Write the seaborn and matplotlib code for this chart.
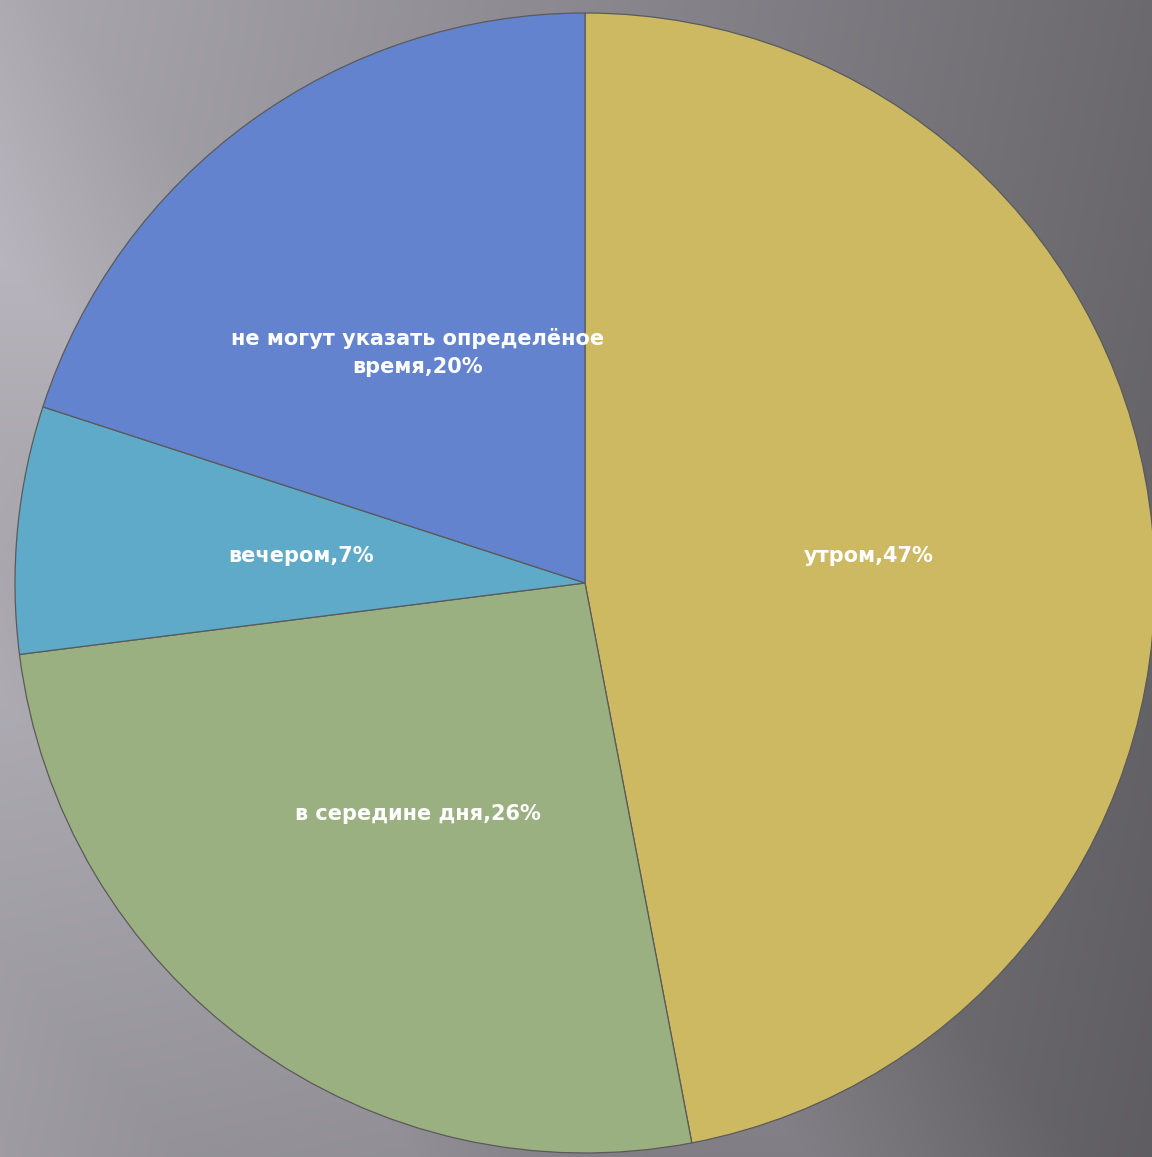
import numpy as np
import seaborn as sns
import matplotlib.pyplot as plt

# доли ответов: когда удобнее всего
labels = ['утром', 'в середине дня', 'вечером', 'не могут указать определёное\nвремя']
values = [47, 26, 7, 20]
colors = ['#CDB962', '#9BB080', '#5FAAC8', '#6383CE']

sns.set_theme(style='white')
plt.rcParams['font.family'] = ['DejaVu Sans']

W, H = 1152, 1157
fig = plt.figure(figsize=(W / 100, H / 100), dpi=100)
ax = fig.add_axes([0, 0, 1, 1])

# серый фон с диагональными бликами
yy, xx = np.mgrid[0:H, 0:W]
u = xx / W
v = yy / H
bg = 0.62 - 0.25 * u + 0.05 * (1 - v)
diag = (xx + 0.9 * (H - yy)) / (W + H)
bg += 0.06 * np.clip(1 - np.abs(diag - 0.35) / 0.12, 0, 1)
bg += 0.04 * np.clip(1 - np.abs(diag - 0.18) / 0.10, 0, 1)
bg = np.clip(bg, 0, 1)
rgb = np.dstack([bg * 1.0, bg * 0.985, bg * 1.03]).clip(0, 1)
ax.imshow(rgb, extent=[0, W, 0, H], origin='upper', zorder=0, aspect='auto')

texts_lbl = [f'{l},{v}%' for l, v in zip(labels, values)]
wedges, texts = ax.pie(values, labels=texts_lbl, colors=colors, startangle=90,
                       counterclock=False, center=(585, 574), radius=570,
                       labeldistance=0.5, frame=True,
                       wedgeprops=dict(edgecolor='#5a5a5a', linewidth=0.9),
                       textprops=dict(color='white', fontsize=15, fontweight='bold'))
for t in texts:
    t.set_ha('center')
    t.set_va('center')
    t.set_multialignment('center')
    t.set_linespacing(1.55)
    t.set_zorder(5)

ax.set_xlim(0, W)
ax.set_ylim(0, H)
ax.set_aspect('auto')
ax.axis('off')

fig.savefig('out.png', dpi=100)
